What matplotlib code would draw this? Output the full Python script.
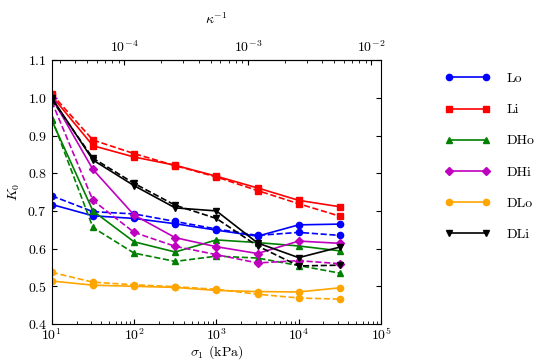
import numpy as np
import matplotlib
matplotlib.use("Agg")
import matplotlib.pyplot as plt

# Computer Modern look, like a LaTeX figure
plt.rcParams['font.family'] = 'serif'
plt.rcParams['font.serif'] = ['cmr10']
plt.rcParams['mathtext.fontset'] = 'cm'
plt.rcParams['axes.formatter.use_mathtext'] = True
plt.rcParams['font.size'] = 10

# Data
sigma = [10, 31.6, 100, 316, 1000, 3162, 10000, 31623]

lo_solid = [0.717, 0.687, 0.680, 0.666, 0.649, 0.633, 0.663, 0.665]
lo_dash = [0.740, 0.698, 0.692, 0.672, 0.652, 0.635, 0.643, 0.635]
li_solid = [1.005, 0.873, 0.843, 0.821, 0.792, 0.761, 0.728, 0.711]
li_dash = [1.010, 0.888, 0.852, 0.820, 0.790, 0.754, 0.719, 0.686]
dho_solid = [0.940, 0.700, 0.618, 0.591, 0.623, 0.616, 0.607, 0.594]
dho_dash = [0.945, 0.656, 0.588, 0.566, 0.580, 0.575, 0.555, 0.535]
dhi_solid = [1.000, 0.810, 0.689, 0.629, 0.605, 0.587, 0.620, 0.614]
dhi_dash = [0.990, 0.728, 0.643, 0.606, 0.584, 0.562, 0.568, 0.560]
dlo_solid = [0.514, 0.503, 0.500, 0.497, 0.489, 0.486, 0.485, 0.496]
dlo_dash = [0.537, 0.511, 0.504, 0.499, 0.492, 0.479, 0.469, 0.466]
dli_solid = [1.000, 0.835, 0.767, 0.708, 0.700, 0.615, 0.576, 0.604]
dli_dash = [0.995, 0.840, 0.773, 0.715, 0.680, 0.607, 0.554, 0.556]

labels = ['Lo', 'Li', 'DHo', 'DHi', 'DLo', 'DLi']
colors = ['b', 'r', 'g', 'm', 'orange', 'k']
markers = ['o', 's', '^', 'D', 'o', 'v']
solids = [lo_solid, li_solid, dho_solid, dhi_solid, dlo_solid, dli_solid]
dashes = [lo_dash, li_dash, dho_dash, dhi_dash, dlo_dash, dli_dash]

# Young's modulus of the grains (kPa), sets the top axis
E = 7.6e7

fig = plt.figure(figsize=(5.57, 3.6), dpi=100)
ax = fig.add_axes([0.093, 0.1, 0.591, 0.733])

for lab, c, m, ys, yd in zip(labels, colors, markers, solids, dashes):
    ax.plot(sigma, ys, color=c, marker=m, ms=4.5, mec=c, lw=1.2, label=lab)
    ax.plot(sigma, yd, color=c, marker=m, ms=4.5, mec=c, lw=1.2, ls='--')

ax.set_xscale('log')
ax.set_xlim(10, 1e5)
ax.set_ylim(0.4, 1.1)
ax.set_yticks(np.arange(0.4, 1.11, 0.1))
ax.tick_params(which='both', direction='in', top=False, right=True)
ax.tick_params(axis='x', pad=2)
ax.set_xlabel(r'$\sigma_1$ (kPa)', labelpad=0)
ax.set_ylabel(r'$K_0$', labelpad=4)

top = ax.secondary_xaxis('top', functions=(lambda s: (s / E) ** (2 / 3),
                                           lambda k: E * k ** 1.5))
top.set_xscale('log')
top.tick_params(which='both', direction='in')
top.set_xlabel(r'$\kappa^{-1}$', labelpad=11)

ax.legend(loc='upper left', bbox_to_anchor=(1.155, 1.0), frameon=False,
          numpoints=2, handlelength=3.3, handletextpad=1.2, labelspacing=1.32)

fig.savefig('out.png', dpi=100)
